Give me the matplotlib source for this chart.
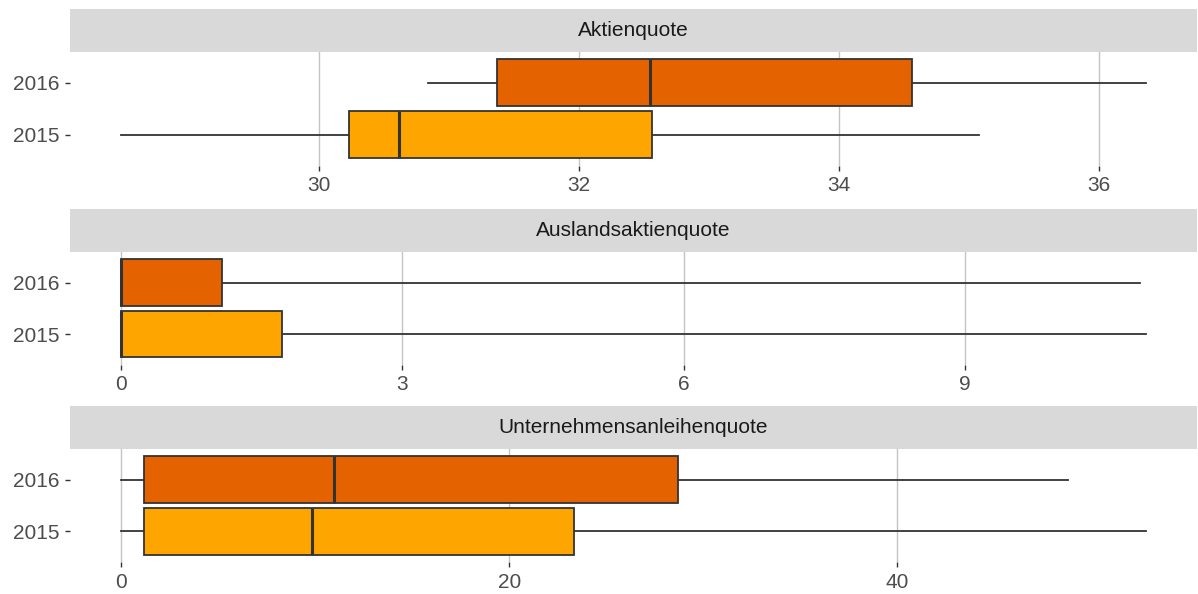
import matplotlib
matplotlib.use("Agg")
import matplotlib.pyplot as plt

plt.rcParams["font.family"] = ["Liberation Sans", "DejaVu Sans"]

# Five-number summaries per year: lower whisker, Q1, median, Q3, upper whisker
years = ["2015", "2016"]
panels = ["Aktienquote", "Auslandsaktienquote", "Unternehmensanleihenquote"]

aktien_2015 = [28.48, 30.23, 30.62, 32.56, 35.08]
aktien_2016 = [30.84, 31.37, 32.55, 34.56, 36.36]

ausland_2015 = [0.0, 0.0, 0.0, 1.72, 10.93]
ausland_2016 = [0.0, 0.0, 0.0, 1.07, 10.87]

anleihen_2015 = [0.0, 1.17, 9.85, 23.34, 52.8]
anleihen_2016 = [0.0, 1.17, 10.98, 28.7, 48.8]

x_ticks = [[30, 32, 34, 36], [0, 3, 6, 9], [0, 20, 40]]

year_colors = {"2015": "#FFA500", "2016": "#E46300"}

series = [
    {"2015": aktien_2015, "2016": aktien_2016},
    {"2015": ausland_2015, "2016": ausland_2016},
    {"2015": anleihen_2015, "2016": anleihen_2016},
]

W, H = 1198, 594
fig = plt.figure(figsize=(W / 100, H / 100), dpi=100)

# pixel layout: (strip top, strip bottom/panel top, panel bottom)
layout = [(8.7, 51.7, 165.7), (208.5, 251.5, 365.2), (405.7, 448.7, 562.4)]
x0, x1 = 70, 1197

edge = "#333333"
fs = 15
for p, (name, data, ticks, (st, pt, pb)) in enumerate(zip(panels, series, x_ticks, layout)):
    # facet strip
    sax = fig.add_axes([x0 / W, 1 - pt / H, (x1 - x0) / W, (pt - st) / H])
    sax.set_facecolor("#D9D9D9")
    sax.set_xticks([]); sax.set_yticks([])
    for s in sax.spines.values():
        s.set_visible(False)
    sax.text(0.5, 0.5, name, ha="center", va="center", fontsize=fs,
             color="#1A1A1A", transform=sax.transAxes)

    ax = fig.add_axes([x0 / W, 1 - pb / H, (x1 - x0) / W, (pb - pt) / H])
    stats = []
    for y in years:
        lo, q1, med, q3, hi = data[y]
        stats.append({"whislo": lo, "q1": q1, "med": med, "q3": q3, "whishi": hi,
                      "fliers": [], "label": y})
    bp = ax.bxp(stats, positions=[1, 2], widths=0.9, vert=False, patch_artist=True,
                showcaps=False, showfliers=False,
                boxprops=dict(edgecolor=edge, linewidth=1.3),
                whiskerprops=dict(color=edge, linewidth=1.3),
                medianprops=dict(color=edge, linewidth=2.2, solid_capstyle="butt"))
    for patch, y in zip(bp["boxes"], years):
        patch.set_facecolor(year_colors[y])
        patch.set_zorder(3)
    for m in bp["medians"]:
        m.set_zorder(4)
    for w in bp["whiskers"]:
        w.set_zorder(2)

    vals = [v for y in years for v in data[y]]
    lo, hi = min(vals), max(vals)
    pad = 0.05 * (hi - lo)
    ax.set_xlim(lo - pad, hi + pad)
    ax.set_ylim(0.4, 2.6)
    ax.set_xticks(ticks)
    ax.set_xticklabels([str(t) for t in ticks])
    ax.set_yticks([1, 2])
    ax.set_yticklabels(years)
    ax.xaxis.grid(True, color="#C4C4C4", linewidth=1.0, zorder=0)
    ax.yaxis.grid(False)
    ax.set_axisbelow(True)
    for s in ax.spines.values():
        s.set_visible(False)
    ax.tick_params(axis="both", length=3.4, width=1.0, color="#333333",
                   labelcolor="#4D4D4D", labelsize=fs, pad=4.3)
    ax.tick_params(axis="x", pad=4)

fig.savefig("out.png", dpi=100, facecolor="white")
